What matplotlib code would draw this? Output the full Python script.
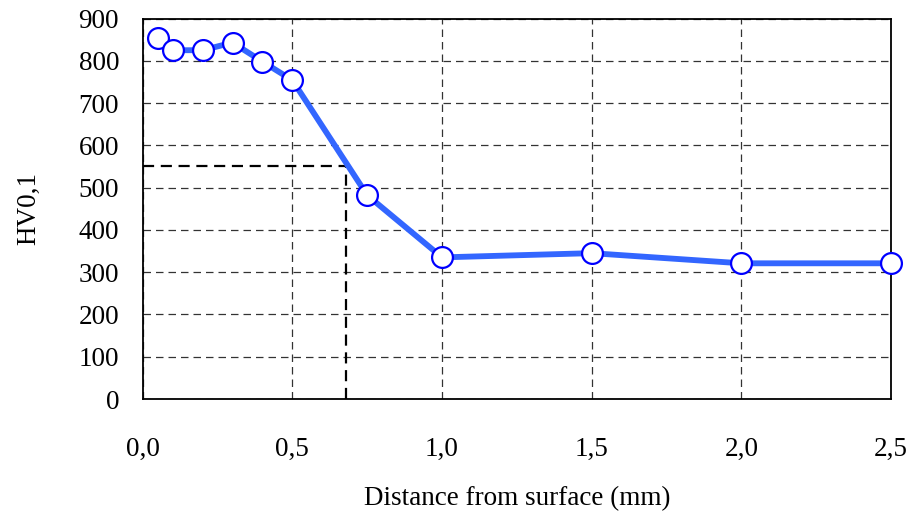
import matplotlib
matplotlib.use('Agg')
import matplotlib.pyplot as plt

plt.rcParams['font.family'] = ['Liberation Serif', 'DejaVu Serif']

# hardness profile
distance = [0.05, 0.1, 0.2, 0.3, 0.4, 0.5, 0.75, 1.0, 1.5, 2.0, 2.5]
hardness = [853, 825, 825, 843, 798, 754, 482, 335, 345, 321, 321]

# case depth marker (550 HV)
limit_hv = 550
case_depth = 0.68

x_ticks = [0.0, 0.5, 1.0, 1.5, 2.0, 2.5]
x_ticklabels = ['0,0', '0,5', '1,0', '1,5', '2,0', '2,5']
y_ticks = list(range(0, 901, 100))

fig = plt.figure(figsize=(9.12, 5.14), dpi=100)
ax = fig.add_axes([0.1565, 0.2237, 0.8205, 0.7403])

ax.grid(True, color='#333333', linestyle=(0, (6, 4)), linewidth=0.9)
ax.set_axisbelow(True)

ax.plot([0, case_depth], [limit_hv, limit_hv], color='black', lw=1.6,
        linestyle=(0, (5, 3)), zorder=2)
ax.plot([case_depth, case_depth], [0, limit_hv], color='black', lw=1.6,
        linestyle=(0, (5, 3)), zorder=2)

ax.plot(distance, hardness, color='#3366FF', lw=4.2, marker='o', ms=15,
        mfc='white', mec='#0000FF', mew=1.6, zorder=3, clip_on=False)

ax.set_xlim(0, 2.5)
ax.set_ylim(0, 900)
ax.set_xticks(x_ticks)
ax.set_xticklabels(x_ticklabels)
ax.set_yticks(y_ticks)
ax.tick_params(length=0, labelsize=19.5)
ax.tick_params(axis='y', pad=17)
ax.tick_params(axis='x', pad=27)

for s in ax.spines.values():
    s.set_linewidth(1.3)
    s.set_color('black')

ax.set_xlabel('Distance from surface (mm)', fontsize=19.5, labelpad=18)
ax.set_ylabel('HV0,1', fontsize=19.5, labelpad=27)

fig.savefig('out.png', dpi=100)
